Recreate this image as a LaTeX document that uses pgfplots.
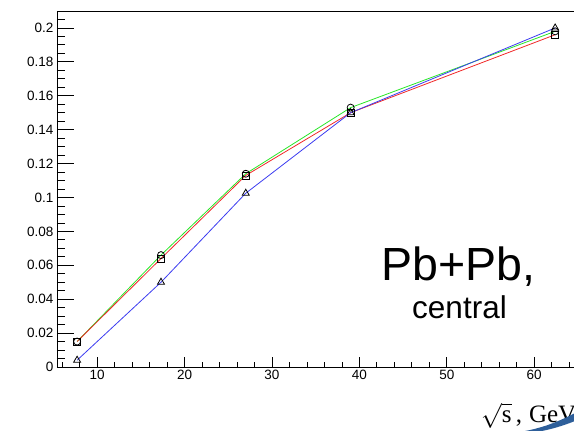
\documentclass[border=0pt]{standalone}
\usepackage{pgfplots}
\usepackage{pgfplotstable}
\pgfplotsset{compat=1.18}
\usepackage{fontspec}
\setmainfont{Liberation Sans}
\newfontfamily\tnr{Liberation Serif}

\pgfplotstableread{
x y
7.7 0.015
17.3 0.066
27 0.114
39 0.153
62.4 0.198
}\datagreen
\pgfplotstableread{
x y
7.7 0.015
17.3 0.064
27 0.113
39 0.150
62.4 0.196
}\datared
\pgfplotstableread{
x y
7.7 0.004
17.3 0.050
27 0.1025
39 0.150
62.4 0.200
}\datablue

\begin{document}
\begin{tikzpicture}[x=1pt,y=1pt]
\pgfplotsset{
  base/.style={
    scale only axis, width=529.6pt, height=356pt,
    xmin=5.4, xmax=66, ymin=0, ymax=0.21,
    at={(57pt,64pt)}, anchor=south west,
    tick align=inside, tick pos=left,
    axis line style={line width=0.8pt, black},
    every tick/.style={line width=0.8pt, black},
    scaled y ticks=false, scaled x ticks=false,
    /pgf/number format/assume math mode=true,
    tick label style={font=\fontsize{13.5}{16}\selectfont},
  }
}
% axis with y ticks and data
\begin{axis}[base,
  xtick=\empty,
  ytick={0,0.02,0.04,0.06,0.08,0.1,0.12,0.14,0.16,0.18,0.2},
  minor ytick={0.005,0.01,0.015,0.025,0.03,0.035,0.045,0.05,0.055,0.065,0.07,0.075,0.085,0.09,0.095,0.105,0.11,0.115,0.125,0.13,0.135,0.145,0.15,0.155,0.165,0.17,0.175,0.185,0.19,0.195,0.205},
  major tick length=16.7pt, minor tick length=8pt,
  yticklabel style={/pgf/number format/fixed, /pgf/number format/precision=2},
  clip=true]
\addplot[color={rgb,255:red,40;green,230;blue,40}, line width=0.8pt, no marks] table[x=x,y=y] {\datagreen};
\addplot[color={rgb,255:red,240;green,40;blue,40}, line width=0.8pt, no marks] table[x=x,y=y] {\datared};
\addplot[color={rgb,255:red,60;green,60;blue,240}, line width=0.8pt, no marks] table[x=x,y=y] {\datablue};
\addplot[only marks, mark=o, mark size=3.5pt, mark options={draw=black, line width=0.8pt, fill=none}] table[x=x,y=y] {\datagreen};
\addplot[only marks, mark=square, mark size=3.5pt, mark options={draw=black, line width=0.8pt, fill=none}] table[x=x,y=y] {\datared};
\addplot[only marks, mark=triangle, mark size=4pt, mark options={draw=black, line width=0.8pt, fill=none}] table[x=x,y=y] {\datablue};
\end{axis}
% axis with x ticks
\begin{axis}[base,
  ytick=\empty,
  xtick={10,20,30,40,50,60},
  minor xtick={6,8,12,14,16,18,22,24,26,28,32,34,36,38,42,44,46,48,52,54,56,58,62,64},
  major tick length=10pt, minor tick length=5pt]
\end{axis}
\node[anchor=base, inner sep=0pt] at (458.8,150) {\fontsize{46.5}{50}\selectfont Pb+Pb,};
\node[anchor=base, inner sep=0pt] at (459.5,112) {\fontsize{31.5}{36}\selectfont central};
\node[anchor=base west, inner sep=0pt] at (481,8.5) {\fontsize{25}{28}\selectfont\tnr $\sqrt{\hbox{\tnr s}}$\,,\;GeV};
\fill[color={rgb,255:red,46;green,95;blue,154}] (519,-1) .. controls (540,2) and (558,9) .. (575,18) -- (575,10) .. controls (560,4) and (545,0) .. (535,-1) -- cycle;
\pgfresetboundingbox
\useasboundingbox (0,0) rectangle (574,431);
\end{tikzpicture}
\end{document}
